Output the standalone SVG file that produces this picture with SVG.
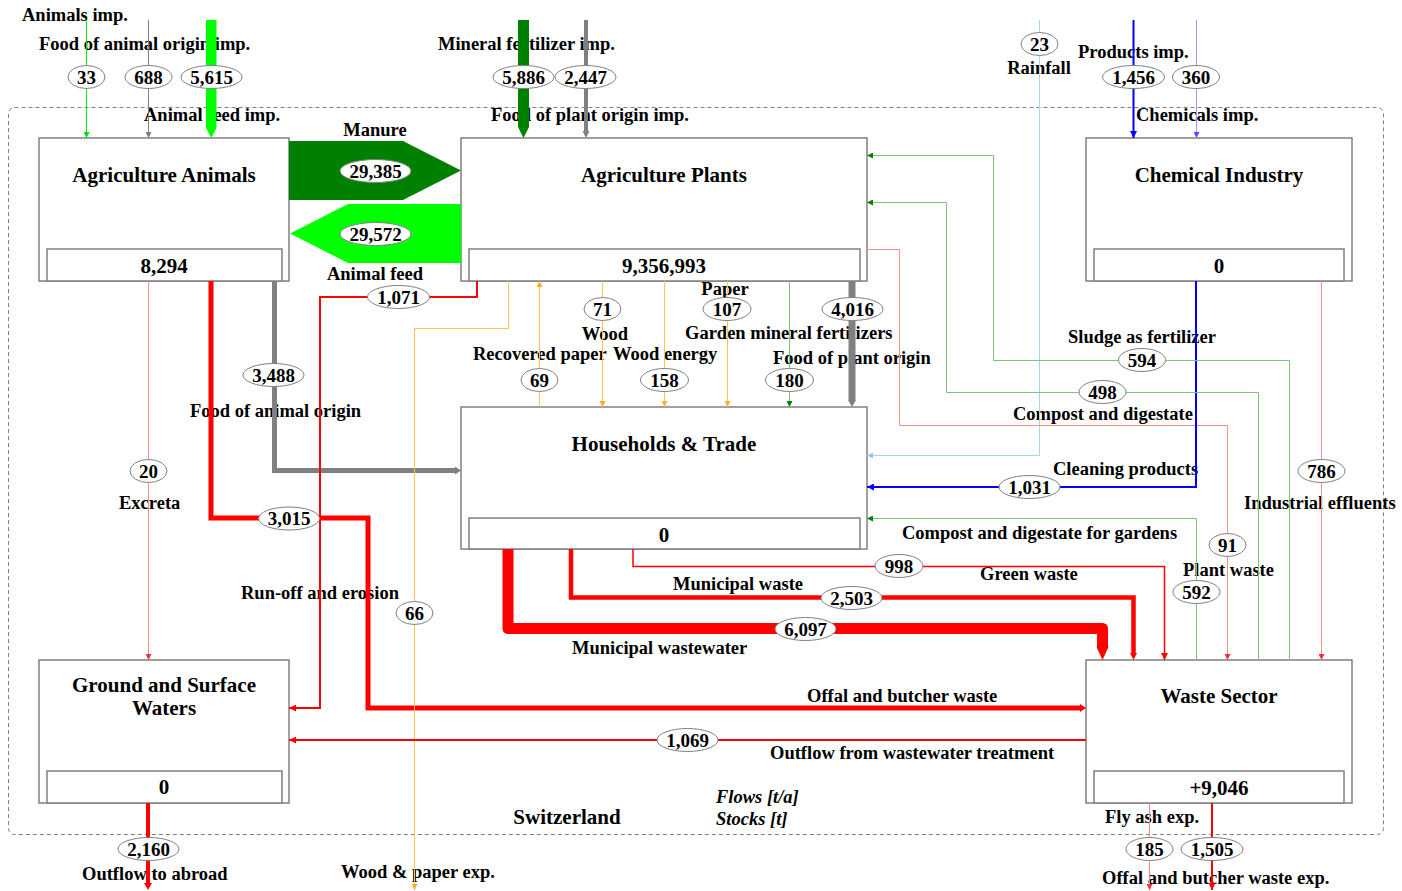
<svg xmlns="http://www.w3.org/2000/svg" width="1402" height="891" viewBox="0 0 1402 891">
<style>
text{font-family:"Liberation Serif","Times New Roman",serif;font-weight:bold;fill:#000}
.lbl{font-size:18.5px}
.num{font-size:19px;text-anchor:middle}
.title{font-size:21px;text-anchor:middle}
.stock{font-size:21px;text-anchor:middle}
.it{font-style:italic;font-size:18.5px}
.box{fill:#fff;stroke:#808080;stroke-width:1.5}
.val ellipse{fill:#fff;stroke:#808080;stroke-width:1}
#connectors path{fill:none}
.red{stroke:#ff0000}
.lred{stroke:#ff8c8c}
.gray{stroke:#808080}
.blue{stroke:#0000ff}
.lblue{stroke:#a9d4ea}
.lav{stroke:#9b9bff}
.lgreen{stroke:#7cc47c}
.lime{stroke:#00ee00}
.orange{stroke:#ffc24a}
</style>
<defs>
<marker id="a-red" viewBox="0 0 10 10" refX="10" refY="5" markerWidth="7" markerHeight="7" markerUnits="userSpaceOnUse" orient="auto"><path d="M0,0L10,5L0,10z" fill="#ff0000"/></marker>
<marker id="a-lred" viewBox="0 0 10 10" refX="10" refY="5" markerWidth="6" markerHeight="6" markerUnits="userSpaceOnUse" orient="auto"><path d="M0,0L10,5L0,10z" fill="#ff3030"/></marker>
<marker id="a-gray" viewBox="0 0 10 10" refX="10" refY="5" markerWidth="6" markerHeight="6" markerUnits="userSpaceOnUse" orient="auto"><path d="M0,0L10,5L0,10z" fill="#808080"/></marker>
<marker id="a-blue" viewBox="0 0 10 10" refX="10" refY="5" markerWidth="7" markerHeight="7" markerUnits="userSpaceOnUse" orient="auto"><path d="M0,0L10,5L0,10z" fill="#0000ff"/></marker>
<marker id="a-lblue" viewBox="0 0 10 10" refX="10" refY="5" markerWidth="6" markerHeight="6" markerUnits="userSpaceOnUse" orient="auto"><path d="M0,0L10,5L0,10z" fill="#8cc8ea"/></marker>
<marker id="a-lav" viewBox="0 0 10 10" refX="10" refY="5" markerWidth="6" markerHeight="6" markerUnits="userSpaceOnUse" orient="auto"><path d="M0,0L10,5L0,10z" fill="#5050ff"/></marker>
<marker id="a-green" viewBox="0 0 10 10" refX="10" refY="5" markerWidth="6" markerHeight="6" markerUnits="userSpaceOnUse" orient="auto"><path d="M0,0L10,5L0,10z" fill="#008000"/></marker>
<marker id="a-lime" viewBox="0 0 10 10" refX="10" refY="5" markerWidth="6" markerHeight="6" markerUnits="userSpaceOnUse" orient="auto"><path d="M0,0L10,5L0,10z" fill="#00dd00"/></marker>
<marker id="a-orange" viewBox="0 0 10 10" refX="10" refY="5" markerWidth="6" markerHeight="6" markerUnits="userSpaceOnUse" orient="auto"><path d="M0,0L10,5L0,10z" fill="#ffb020"/></marker>
</defs>
<rect width="1402" height="891" fill="#fff"/>
<rect id="boundary" x="8.5" y="107.5" width="1375" height="727" rx="6" fill="none" stroke="#808080" stroke-width="1" stroke-dasharray="4,3"/>

<g id="node-agri-animals">
<rect class="box" x="39" y="138" width="250" height="143"/>
<rect class="box" x="47" y="249" width="235" height="32"/>
<text class="title" x="164" y="182">Agriculture Animals</text>
<text class="stock" x="164" y="273">8,294</text>
</g>
<g id="node-agri-plants">
<rect class="box" x="461" y="138" width="406" height="143"/>
<rect class="box" x="469" y="249" width="391" height="32"/>
<text class="title" x="664" y="182">Agriculture Plants</text>
<text class="stock" x="664" y="273">9,356,993</text>
</g>
<g id="node-chemical">
<rect class="box" x="1086" y="138" width="266" height="143"/>
<rect class="box" x="1094" y="249" width="250" height="32"/>
<text class="title" x="1219" y="182">Chemical Industry</text>
<text class="stock" x="1219" y="273">0</text>
</g>
<g id="node-households">
<rect class="box" x="461" y="407" width="406" height="142"/>
<rect class="box" x="469" y="518" width="391" height="31"/>
<text class="title" x="664" y="451">Households &amp; Trade</text>
<text class="stock" x="664" y="542">0</text>
</g>
<g id="node-waters">
<rect class="box" x="39" y="660" width="250" height="143"/>
<rect class="box" x="47" y="771" width="235" height="32"/>
<text class="title" x="164" y="692">Ground and Surface</text>
<text class="title" x="164" y="715">Waters</text>
<text class="stock" x="164" y="794">0</text>
</g>
<g id="node-waste">
<rect class="box" x="1086" y="660" width="266" height="143"/>
<rect class="box" x="1094" y="771" width="250" height="32"/>
<text class="title" x="1219" y="703">Waste Sector</text>
<text class="stock" x="1219" y="795">+9,046</text>
</g>

<g id="flow-labels">
<text class="lbl" x="22" y="21">Animals imp.</text>
<text class="lbl" x="39" y="50">Food of animal origin imp.</text>
<text class="lbl" x="144" y="121">Animal feed imp.</text>
<text class="lbl" x="375" y="136" text-anchor="middle">Manure</text>
<text class="lbl" x="375" y="280" text-anchor="middle">Animal feed</text>
<text class="lbl" x="438" y="50">Mineral fertilizer imp.</text>
<text class="lbl" x="491" y="121">Food of plant origin imp.</text>
<text class="lbl" x="1039" y="74" text-anchor="middle">Rainfall</text>
<text class="lbl" x="1078" y="58">Products imp.</text>
<text class="lbl" x="1136" y="121">Chemicals imp.</text>
<text class="lbl" x="725" y="295" text-anchor="middle">Paper</text>
<text class="lbl" x="605" y="340" text-anchor="middle">Wood</text>
<text class="lbl" x="473" y="360">Recovered paper</text>
<text class="lbl" x="613" y="360">Wood energy</text>
<text class="lbl" x="685" y="339">Garden mineral fertilizers</text>
<text class="lbl" x="773" y="364">Food of plant origin</text>
<text class="lbl" x="1068" y="343">Sludge as fertilizer</text>
<text class="lbl" x="1013" y="420">Compost and digestate</text>
<text class="lbl" x="1053" y="475">Cleaning products</text>
<text class="lbl" x="1244" y="509">Industrial effluents</text>
<text class="lbl" x="902" y="539">Compost and digestate for gardens</text>
<text class="lbl" x="1183" y="576">Plant waste</text>
<text class="lbl" x="980" y="580">Green waste</text>
<text class="lbl" x="673" y="590">Municipal waste</text>
<text class="lbl" x="572" y="654">Municipal wastewater</text>
<text class="lbl" x="807" y="702">Offal and butcher waste</text>
<text class="lbl" x="770" y="759">Outflow from wastewater treatment</text>
<text class="lbl" x="190" y="417">Food of animal origin</text>
<text class="lbl" x="119" y="509">Excreta</text>
<text class="lbl" x="241" y="599">Run-off and erosion</text>
<text class="lbl" x="82" y="880">Outflow to abroad</text>
<text class="lbl" x="341" y="878">Wood &amp; paper exp.</text>
<text class="lbl" x="1105" y="823">Fly ash exp.</text>
<text class="lbl" x="1102" y="884">Offal and butcher waste exp.</text>
<text class="title" x="567" y="824">Switzerland</text>
<text class="it" x="716" y="803">Flows [t/a]</text>
<text class="it" x="716" y="825">Stocks [t]</text>
</g>

<g id="connectors">
<path class="lime" stroke-width="1" d="M86.5,20V138" marker-end="url(#a-lime)"/>
<path class="gray" stroke-width="1" d="M148.5,20V138" marker-end="url(#a-gray)"/>
<polygon points="206,20 216.5,20 216.5,128 211.25,138 206,128" fill="#00ff00"/>
<polygon points="518,20 529,20 529,127 523.5,138 518,127" fill="#008000"/>
<path class="gray" stroke-width="4" d="M586,20V131"/>
<polygon points="582.5,131 589.5,131 586,138" fill="#808080"/>
<path class="lblue" stroke-width="1" d="M1039.5,20V455.5H867" marker-end="url(#a-lblue)"/>
<path class="blue" stroke-width="2" d="M1133.5,20V138" marker-end="url(#a-blue)"/>
<path class="lav" stroke-width="1" d="M1196.5,20V138" marker-end="url(#a-lav)"/>
<polygon points="289,141 403,141 461,170.5 403,200 289,200" fill="#008000"/>
<polygon points="461,204 348,204 290,233.5 348,263 461,263" fill="#00ff00"/>
<path class="lred" stroke-width="1" d="M148.5,281V660" marker-end="url(#a-lred)"/>
<path class="red" stroke-width="5" d="M211,281V518H368V708H1080"/>
<polygon points="1080,704 1080,712 1086,708" fill="#ff0000"/>
<path class="gray" stroke-width="5" d="M274.5,281V470.5H455"/>
<polygon points="455,466.5 455,474.5 461,470.5" fill="#808080"/>
<path class="red" stroke-width="2" d="M477,281V297H320V708H289" marker-end="url(#a-red)"/>
<path class="orange" stroke-width="1" d="M508.5,281V328.5H414.5V890" marker-end="url(#a-orange)"/>
<path class="orange" stroke-width="1" d="M539.5,407V281" marker-end="url(#a-orange)"/>
<path class="orange" stroke-width="1" d="M602.5,281V407" marker-end="url(#a-orange)"/>
<path class="orange" stroke-width="1" d="M664.5,281V407" marker-end="url(#a-orange)"/>
<path class="orange" stroke-width="1" d="M727.5,281V407" marker-end="url(#a-orange)"/>
<path class="lgreen" stroke-width="1" d="M789.5,281V407" marker-end="url(#a-green)"/>
<path class="gray" stroke-width="7" d="M852,281V400"/>
<polygon points="848,400 856,400 852,407" fill="#808080"/>
<path class="lred" stroke-width="1" d="M867,249.5H899.5V425.5H1227.5V660" marker-end="url(#a-lred)"/>
<path class="blue" stroke-width="2" d="M1196,281V487H867" marker-end="url(#a-blue)"/>
<path class="lred" stroke-width="1" d="M1321.5,281V660" marker-end="url(#a-lred)"/>
<path class="lgreen" stroke-width="1" d="M1289.5,660V360.5H993.5V155.5H867" marker-end="url(#a-green)"/>
<path class="lgreen" stroke-width="1" d="M1258.5,660V392.5H946.5V202.5H867" marker-end="url(#a-green)"/>
<path class="lgreen" stroke-width="1" d="M1196.5,660V518.5H867" marker-end="url(#a-green)"/>
<path class="red" stroke-width="2" d="M1086,740H289" marker-end="url(#a-red)"/>
<path class="lred" stroke-width="1" d="M1149.5,803V890" marker-end="url(#a-lred)"/>
<path class="red" stroke-width="2" d="M1212,803V890" marker-end="url(#a-red)"/>
<path class="red" stroke-width="1.5" d="M633,549V566.5H1164.5V660" marker-end="url(#a-red)"/>
<path class="red" stroke-width="4.5" d="M571,549V597.5H1133.5V653"/>
<polygon points="1130,653 1137,653 1133.5,660" fill="#ff0000"/>
<path class="red" stroke-width="11" stroke-linejoin="round" d="M508,549V628.5H1102.5V648"/>
<polygon points="1096.5,647 1108.5,647 1102.5,660" fill="#ff0000"/>
<path class="red" stroke-width="4" d="M148,803V883"/>
<polygon points="144,883 152,883 148,890" fill="#ff0000"/>
</g>

<g id="values" class="val">
<ellipse cx="86.5" cy="77" rx="18.5" ry="11.5"/><text class="num" x="86.5" y="83.5">33</text>
<ellipse cx="148.5" cy="77" rx="23.5" ry="11.5"/><text class="num" x="148.5" y="83.5">688</text>
<ellipse cx="211.5" cy="77" rx="30.5" ry="11.5"/><text class="num" x="211.5" y="83.5">5,615</text>
<ellipse cx="523.5" cy="77" rx="30.5" ry="11.5"/><text class="num" x="523.5" y="83.5">5,886</text>
<ellipse cx="585.5" cy="77" rx="30.5" ry="11.5"/><text class="num" x="585.5" y="83.5">2,447</text>
<ellipse cx="1039.5" cy="44" rx="18.5" ry="11.5"/><text class="num" x="1039.5" y="50.5">23</text>
<ellipse cx="1133.5" cy="77" rx="31" ry="11.5"/><text class="num" x="1133.5" y="83.5">1,456</text>
<ellipse cx="1196" cy="77" rx="23.5" ry="11.5"/><text class="num" x="1196" y="83.5">360</text>
<ellipse cx="375.5" cy="171" rx="35.5" ry="11.5"/><text class="num" x="375.5" y="177.5">29,385</text>
<ellipse cx="375.5" cy="234" rx="35.5" ry="11.5"/><text class="num" x="375.5" y="240.5">29,572</text>
<ellipse cx="398.5" cy="297" rx="31" ry="11.5"/><text class="num" x="398.5" y="303.5">1,071</text>
<ellipse cx="602.5" cy="309" rx="18.5" ry="11.5"/><text class="num" x="602.5" y="315.5">71</text>
<ellipse cx="727" cy="309" rx="24" ry="11.5"/><text class="num" x="727" y="315.5">107</text>
<ellipse cx="852.5" cy="309" rx="30.5" ry="11.5"/><text class="num" x="852.5" y="315.5">4,016</text>
<ellipse cx="539.5" cy="380" rx="18.5" ry="11.5"/><text class="num" x="539.5" y="386.5">69</text>
<ellipse cx="664.5" cy="380" rx="24" ry="11.5"/><text class="num" x="664.5" y="386.5">158</text>
<ellipse cx="789.5" cy="380" rx="24" ry="11.5"/><text class="num" x="789.5" y="386.5">180</text>
<ellipse cx="273.5" cy="375" rx="30.5" ry="11.5"/><text class="num" x="273.5" y="381.5">3,488</text>
<ellipse cx="1142" cy="360" rx="23.5" ry="11.5"/><text class="num" x="1142" y="366.5">594</text>
<ellipse cx="1102.5" cy="392" rx="23.5" ry="11.5"/><text class="num" x="1102.5" y="398.5">498</text>
<ellipse cx="148.5" cy="471" rx="18.5" ry="11.5"/><text class="num" x="148.5" y="477.5">20</text>
<ellipse cx="1321.5" cy="471" rx="23.5" ry="11.5"/><text class="num" x="1321.5" y="477.5">786</text>
<ellipse cx="1029.5" cy="487" rx="30.5" ry="11.5"/><text class="num" x="1029.5" y="493.5">1,031</text>
<ellipse cx="289" cy="518.5" rx="30.5" ry="11.5"/><text class="num" x="289" y="525">3,015</text>
<ellipse cx="1227.5" cy="545" rx="18.5" ry="11.5"/><text class="num" x="1227.5" y="551.5">91</text>
<ellipse cx="899" cy="566" rx="24" ry="11.5"/><text class="num" x="899" y="572.5">998</text>
<ellipse cx="1196.5" cy="592" rx="23.5" ry="11.5"/><text class="num" x="1196.5" y="598.5">592</text>
<ellipse cx="851.5" cy="598" rx="30.5" ry="11.5"/><text class="num" x="851.5" y="604.5">2,503</text>
<ellipse cx="414.5" cy="613" rx="18.5" ry="11.5"/><text class="num" x="414.5" y="619.5">66</text>
<ellipse cx="805.5" cy="629" rx="30.5" ry="11.5"/><text class="num" x="805.5" y="635.5">6,097</text>
<ellipse cx="687.5" cy="740" rx="30.5" ry="11.5"/><text class="num" x="687.5" y="746.5">1,069</text>
<ellipse cx="148.5" cy="849" rx="30.5" ry="11.5"/><text class="num" x="148.5" y="855.5">2,160</text>
<ellipse cx="1149.5" cy="849" rx="23.5" ry="11.5"/><text class="num" x="1149.5" y="855.5">185</text>
<ellipse cx="1212" cy="849" rx="31" ry="11.5"/><text class="num" x="1212" y="855.5">1,505</text>
</g>
</svg>
